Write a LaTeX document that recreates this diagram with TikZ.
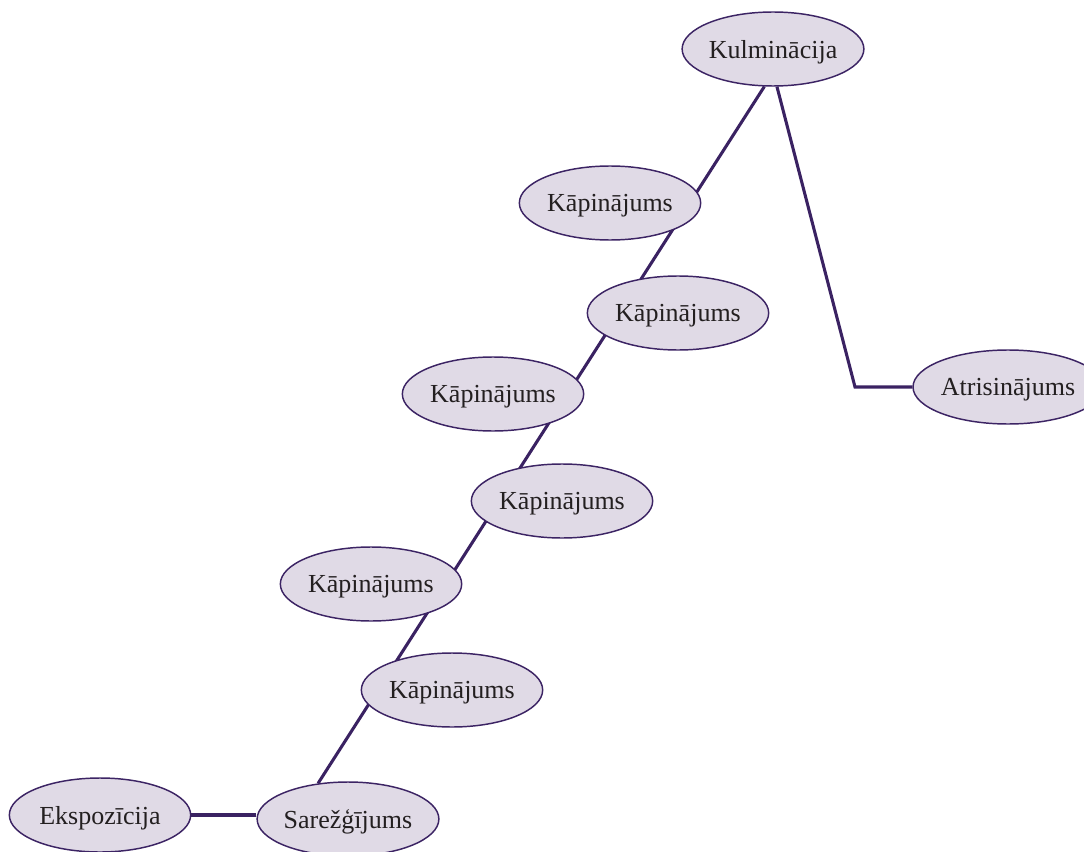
\documentclass[tikz,border=0pt]{standalone}
\usepackage{fontspec}
\setmainfont{Liberation Serif}
\usetikzlibrary{shapes.geometric,backgrounds}
\definecolor{nodefill}{RGB}{224,218,230}
\definecolor{nodeline}{RGB}{60,36,100}
\definecolor{edgecol}{RGB}{58,34,98}
\definecolor{txt}{RGB}{35,31,32}
\begin{document}
\begin{tikzpicture}[x=0.75pt,y=-0.75pt,
  oval/.style={ellipse,draw=nodeline,fill=nodefill,line width=1.1pt,
    minimum width=136pt,minimum height=55.5pt,inner sep=0pt,text depth=0pt,
    font=\fontsize{19.5}{22}\selectfont,text=txt},
  link/.style={draw=edgecol,line width=2.3pt}]
\useasboundingbox (0,0) rectangle (1084,852);
\node[oval] (kul) at (773,49) {Kulminācija};
\node[oval] (k1) at (610,203) {Kāpinājums};
\node[oval] (k2) at (678,313) {Kāpinājums};
\node[oval] (k3) at (493,394) {Kāpinājums};
\node[oval] (k4) at (562,501) {Kāpinājums};
\node[oval] (k5) at (371,584) {Kāpinājums};
\node[oval] (k6) at (452,690) {Kāpinājums};
\node[oval] (sar) at (348,819) {Sarežģījums};
\node[oval] (eks) at (100,815) {Ekspozīcija};
\node[oval] (atr) at (1008,387) {Atrisinājums};
\coordinate (bend) at (855,387);
\begin{scope}[on background layer]
\draw[link] (sar.130) -- (kul.257);
\draw[link] (kul.276) -- (bend) -- (atr.west);
\draw[link] (eks.east) -- (eks.east -| sar.west);
\end{scope}
\end{tikzpicture}
\end{document}
